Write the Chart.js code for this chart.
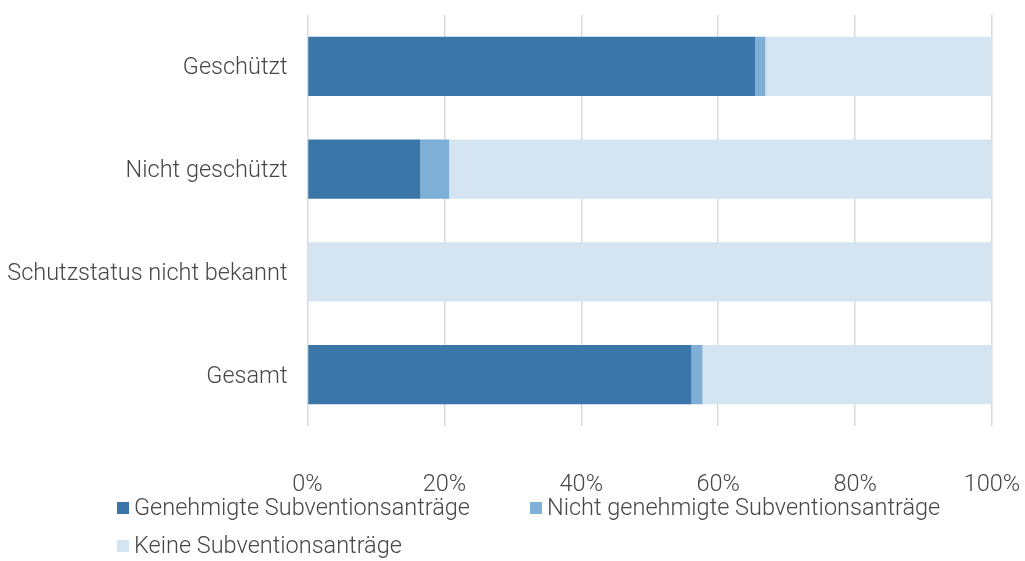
<!DOCTYPE html>
<html>
<head>
<meta charset="utf-8">
<script src="https://cdn.jsdelivr.net/npm/chart.js@4.4.1/dist/chart.umd.min.js"></script>
<style>
  html, body { margin: 0; padding: 0; background: #ffffff; }
  #wrap { position: relative; width: 1025px; height: 561px; }
</style>
</head>
<body>
<div id="wrap"><canvas id="c" width="1025" height="561"></canvas></div>
<script>
const categories = ['Geschützt', 'Nicht geschützt', 'Schutzstatus nicht bekannt', 'Gesamt'];
const seriesNames = ['Genehmigte Subventionsanträge', 'Nicht genehmigte Subventionsanträge', 'Keine Subventionsanträge'];
const genehmigt = [65.4, 16.5, 0, 56.1];
const nichtGenehmigt = [1.5, 4.2, 0, 1.6];
const keine = [33.1, 79.3, 100, 42.3];
const tickValues = [0, 20, 40, 60, 80, 100];
const tickLabels = ['0%', '20%', '40%', '60%', '80%', '100%'];

const colors = ['#3a76a7', '#7eafd6', '#d5e4f1'];
const FONT = 'Roboto';
const TEXT = '#474747';
const FSIZE = 23.5;

const legendPlugin = {
  id: 'customLegend',
  afterDraw(chart) {
    const ctx = chart.ctx;
    const spots = [[117, 508], [530, 508], [117, 546]];
    ctx.save();
    ctx.font = '300 ' + FSIZE + 'px ' + FONT;
    ctx.textBaseline = 'middle';
    ctx.textAlign = 'left';
    chart.data.datasets.forEach((ds, i) => {
      const [x, y] = spots[i];
      ctx.fillStyle = ds.backgroundColor;
      ctx.fillRect(x, y - 6, 12, 12);
      ctx.fillStyle = TEXT;
      ctx.fillText(ds.label, x + 17, y + 1);
    });
    ctx.restore();
  }
};

new Chart(document.getElementById('c'), {
  type: 'bar',
  data: {
    labels: categories,
    datasets: [
      { label: seriesNames[0], data: genehmigt, backgroundColor: colors[0] },
      { label: seriesNames[1], data: nichtGenehmigt, backgroundColor: colors[1] },
      { label: seriesNames[2], data: keine, backgroundColor: colors[2] }
    ]
  },
  options: {
    indexAxis: 'y',
    responsive: false,
    animation: false,
    layout: { padding: { top: 15, right: 33, left: 0, bottom: 0 } },
    datasets: { bar: { categoryPercentage: 1.0, barPercentage: 0.575, borderWidth: 0 } },
    plugins: {
      legend: { display: false },
      tooltip: { enabled: false }
    },
    scales: {
      x: {
        stacked: true,
        min: 0,
        max: 100,
        afterBuildTicks(scale) { scale.ticks = tickValues.map(v => ({ value: v })); },
        afterFit(scale) {
          scale.height = 135;
          scale.paddingLeft = 0; scale.paddingRight = 0;
          scale.paddingTop = 0; scale.paddingBottom = 0;
        },
        grid: { color: '#d9d9d9', lineWidth: 1.5, drawTicks: false },
        border: { display: false },
        ticks: {
          padding: 45,
          color: TEXT,
          font: { family: FONT, size: FSIZE, weight: '300' },
          callback: (v, i) => tickLabels[i]
        }
      },
      y: {
        stacked: true,
        afterFit(scale) {
          scale.width = 307.5;
          scale.paddingLeft = 0; scale.paddingRight = 0;
          scale.paddingTop = 0; scale.paddingBottom = 0;
        },
        grid: { display: false, drawTicks: false },
        border: { display: false },
        ticks: {
          padding: 20,
          labelOffset: 2,
          color: TEXT,
          font: { family: FONT, size: FSIZE, weight: '300' }
        }
      }
    }
  },
  plugins: [legendPlugin]
});
</script>
</body>
</html>
